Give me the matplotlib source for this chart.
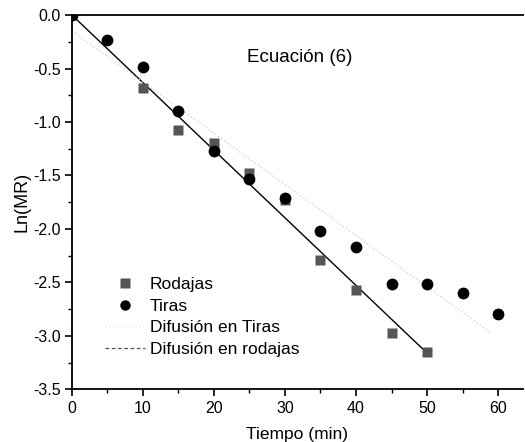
import numpy as np
import matplotlib
matplotlib.use('Agg')
import matplotlib.pyplot as plt
from matplotlib.lines import Line2D
from matplotlib.ticker import MultipleLocator

plt.rcParams['font.family'] = ['Liberation Sans', 'DejaVu Sans']

# Datos experimentales
t_rodajas = [0, 10, 15, 20, 25, 30, 35, 40, 45, 50]
ln_rodajas = [0.0, -0.685, -1.075, -1.195, -1.475, -1.73, -2.29, -2.57, -2.975, -3.155]

t_tiras = [0, 5, 10, 15, 20, 25, 30, 35, 40, 45, 50, 55, 60]
ln_tiras = [0.0, -0.23, -0.485, -0.897, -1.267, -1.53, -1.71, -2.02, -2.165, -2.51, -2.51, -2.595, -2.795]

# Ajustes (modelo de difusion)
t_fit_rodajas = [0, 50]
ln_fit_rodajas = [0.0, -3.16]
t_fit_tiras = [0, 59]
ln_fit_tiras = [-0.15, -2.97]

fig = plt.figure(figsize=(5.25, 4.42), dpi=100)
ax = fig.add_axes([0.137, 0.119, 0.859, 0.847])

ax.plot(t_fit_rodajas, ln_fit_rodajas, color='black', lw=1.0, zorder=2)
ax.plot(t_fit_tiras, ln_fit_tiras, color='#cccccc', lw=0.9, ls=(0, (1, 2)), zorder=2)
ax.plot(t_rodajas, ln_rodajas, 's', color='#555555', ms=7, mec='none', zorder=3)
ax.plot(t_tiras, ln_tiras, 'o', color='black', ms=8.5, mec='none', zorder=4)

ax.set_xlim(0, 63.5)
ax.set_ylim(-3.5, 0)
ax.xaxis.set_major_locator(MultipleLocator(10))
ax.xaxis.set_minor_locator(MultipleLocator(5))
ax.yaxis.set_major_locator(MultipleLocator(0.5))
ax.yaxis.set_minor_locator(MultipleLocator(0.25))
ax.yaxis.set_major_formatter(plt.FuncFormatter(lambda v, p: f'{v:.1f}'))
ax.tick_params(which='major', direction='out', length=5, width=1.2, labelsize=11.5, pad=3)
ax.tick_params(which='minor', direction='out', length=3, width=1.0)
ax.spines['right'].set_visible(False)
for s in ['left', 'bottom', 'top']:
    ax.spines[s].set_linewidth(1.3)

ax.set_xlabel('Tiempo (min)', fontsize=12.5, labelpad=8)
ax.set_ylabel('Ln(MR)', fontsize=13, labelpad=2)

ax.text(24.6, -0.40, 'Ecuación (6)', fontsize=13.5, va='center', ha='left')

handles = [
    Line2D([], [], ls='none', marker='s', color='#555555', ms=6.5, mec='none'),
    Line2D([], [], ls='none', marker='o', color='black', ms=7.5, mec='none'),
    Line2D([], [], color='#e0e0e0', lw=0.9, ls=(0, (1, 2))),
    Line2D([], [], color='#555555', lw=0.9, ls=(0, (3, 2))),
]
labels = ['Rodajas', 'Tiras', 'Difusión en Tiras', 'Difusión en rodajas']
ax.legend(handles, labels, loc='upper left', bbox_to_anchor=(0.073, 0.30),
          borderaxespad=0, borderpad=0, frameon=False, fontsize=12.5,
          handlelength=2.3, handletextpad=0.3, labelspacing=0.37)

fig.savefig('out.png', dpi=100)
